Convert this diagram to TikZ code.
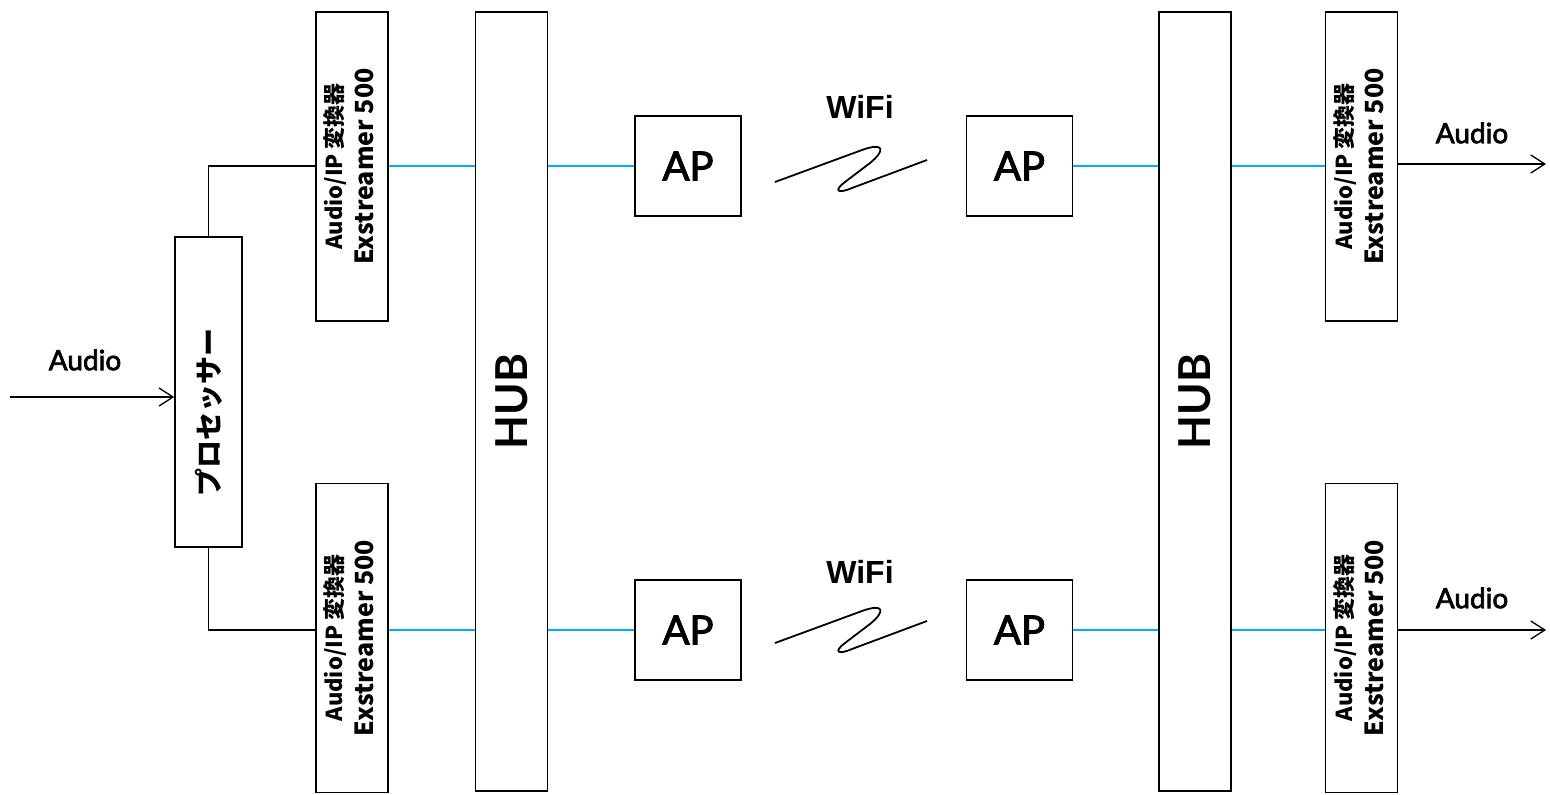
\documentclass[tikz,border=0pt]{standalone}
\usepackage{fontspec}
\setmainfont{Lato}
\newfontfamily\medfont{Lato}[FakeBold=2.5]
\newfontfamily\cjk{Noto Sans CJK JP}
\newfontfamily\wififont{Liberation Sans}
\usetikzlibrary{positioning,arrows.meta}
\definecolor{lanblue}{HTML}{00B0F0}

\newcommand{\convtext}{\rotatebox{90}{{\fontsize{25}{31}\selectfont\begin{tabular}{@{}c@{}}{\fontsize{22}{26}\selectfont Audio/IP 変換器}\\Exstreamer 500\end{tabular}}}}

\begin{document}
\begin{tikzpicture}[x=1pt, y=-1pt,
        box/.style={rectangle, draw=black, line width=1.5pt, inner sep=0pt},
        convbox/.style={box, minimum width=72pt, minimum height=309pt, font=\cjk\bfseries},
        hubbox/.style={box, minimum width=72pt, minimum height=779pt, font=\fontsize{44}{44}\selectfont\bfseries},
        apbox/.style={box, minimum width=106pt, minimum height=100pt, font=\medfont\fontsize{40}{40}\selectfont},
        wire/.style={line width=1.4pt},
        lan/.style={line width=1.5pt, draw=lanblue},
        sig/.style={wire, -{Straight Barb[length=14pt,width=18pt,line width=1.3pt]}},
        audiolabel/.style={font=\medfont\fontsize{28}{28}\selectfont},
        wifilabel/.style={font=\wififont\fontsize{32}{32}\selectfont\bfseries},
    ]
    \useasboundingbox (0,0) rectangle (1550,795);

    % left side
    \node[box, minimum width=67pt, minimum height=310pt, font=\cjk\bfseries\fontsize{28}{28}\selectfont] (proc) at (208.5,392) {\rotatebox{90}{\hspace*{-40pt}プロセッサー}};
    \node[convbox] (convA) at (352,166.5) {\convtext};
    \node[convbox] (convB) [below=161pt of convA] {\convtext};
    \node[hubbox]  (hubL)  at (511.5,401.5) {\rotatebox{90}{HUB}};

    % access points
    \node[apbox] (apA) at (688,166) {AP};
    \node[apbox] (apB) [right=224pt of apA] {AP};
    \node[apbox] (apC) at (688,630) {AP};
    \node[apbox] (apD) [right=224pt of apC] {AP};
    \node[wifilabel] (wifiA) at (860,107) {WiFi};
    \node[wifilabel] (wifiB) at (860,572) {WiFi};

    % right side
    \node[hubbox]  (hubR)  at (1195,401.5) {\rotatebox{90}{HUB}};
    \node[convbox] (convC) at (1361.5,166.5) {\convtext};
    \node[convbox] (convD) [below=161pt of convC] {\convtext};

    \coordinate (in)   at (10,397);
    \coordinate (outA) at (1546,164);
    \coordinate (outB) at (1546,630);
    \node[audiolabel] (audioIn) at (85,360)   {Audio};
    \node[audiolabel] (audioA)  at (1472,133) {Audio};
    \node[audiolabel] (audioB)  at (1472,598) {Audio};

    % analog lines
    \draw[sig] (in) -- (in -| proc.west);
    \draw[wire] (proc.north) |- (convA.west |- apA);
    \draw[wire] (proc.south) |- (convB.west |- apC);
    \draw[sig] (convC.east |- outA) -- (outA);
    \draw[sig] (convD.east |- outB) -- (outB);

    % network lines
    \draw[lan] (convA.east |- apA) -- (hubL.west |- apA);
    \draw[lan] (hubL.east |- apA) -- (apA.west);
    \draw[lan] (apB.east) -- (hubR.west |- apB);
    \draw[lan] (hubR.east |- apB) -- (convC.west |- apB);
    \draw[lan] (convB.east |- apC) -- (hubL.west |- apC);
    \draw[lan] (hubL.east |- apC) -- (apC.west);
    \draw[lan] (apD.east) -- (hubR.west |- apD);
    \draw[lan] (hubR.east |- apD) -- (convD.west |- apD);

    % radio links
    \draw[wire, line width=1.8pt] (775,182) -- (862,150) .. controls (884,142) and (886,150) .. (870,163)
        -- (845,182) .. controls (833,191) and (838,194) .. (852,188) -- (927,160);
    \draw[wire, line width=1.8pt] (775,643) -- (862,611) .. controls (884,603) and (886,611) .. (870,624)
        -- (845,643) .. controls (833,652) and (838,655) .. (852,649) -- (927,621);
\end{tikzpicture}
\end{document}
